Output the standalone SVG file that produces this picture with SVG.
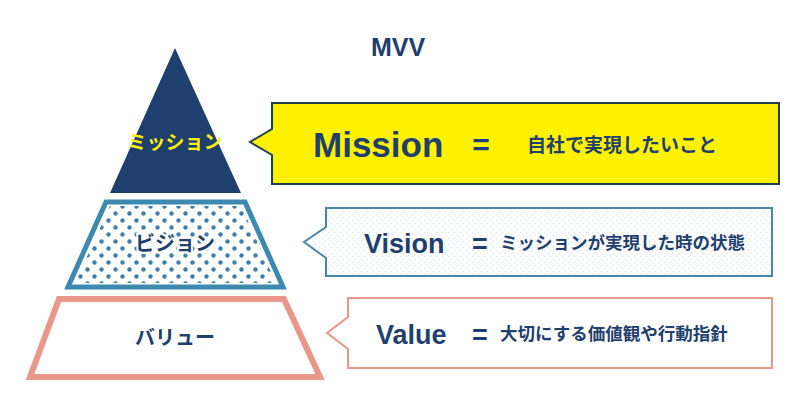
<svg xmlns="http://www.w3.org/2000/svg" width="800" height="419" viewBox="0 0 800 419">
<style>
.en{font-family:"Liberation Sans",Arial,sans-serif;font-weight:bold;fill:#1f3f6e}
.jp{font-family:"Noto Sans CJK JP","Noto Sans",sans-serif;font-weight:bold;fill:#1f3f6e}
</style>
<defs>
<pattern id="dots" width="14" height="14" patternUnits="userSpaceOnUse">
<circle cx="3.5" cy="3.5" r="2.2" fill="#3d7faa"/><circle cx="10.5" cy="10.5" r="2.2" fill="#3d7faa"/>
</pattern>
<pattern id="fdots" width="6" height="6" patternUnits="userSpaceOnUse">
<rect width="6" height="6" fill="#fff"/><circle cx="1.5" cy="1.5" r="1" fill="#e2ecf2"/><circle cx="4.5" cy="4.5" r="1" fill="#e2ecf2"/>
</pattern>
</defs>
<rect width="800" height="419" fill="#fff"/>
<text class="en" x="398" y="56" font-size="25" text-anchor="middle">MVV</text>
<g id="mission-tier">
<polygon points="175,48 241,193 110,193" fill="#1f3f6e"/>
<text class="jp" x="175" y="149" font-size="19" text-anchor="middle" style="fill:#fff200">ミッション</text>
</g>
<g id="vision-tier">
<polygon points="106,202 245,202 283,287 68,287" fill="#fff" stroke="#3d8ab0" stroke-width="5"/>
<polygon points="110,206 241,206 276,283 75,283" fill="url(#dots)"/>
<text class="jp" x="175" y="251" font-size="20" text-anchor="middle" stroke="#fff" stroke-width="4" paint-order="stroke">ビジョン</text>
</g>
<g id="value-tier">
<polygon points="59,299 284,299 320,377 30,377" fill="#fff" stroke="#e8978a" stroke-width="6"/>
<text class="jp" x="175" y="345" font-size="20" text-anchor="middle">バリュー</text>
</g>
<g id="connectors">
<path d="M272,103 H779 V184 H272 V155 L250,142 L272,129 Z" fill="#fff200" stroke="#1f3f50" stroke-width="2"/>
<path d="M326,208 H772 V276 H326 V258 L304,242 L326,227 Z" fill="url(#fdots)" stroke="#4a86a8" stroke-width="2"/>
<path d="M348,298 H772 V368 H348 V349 L327,333 L348,317 Z" fill="#fff" stroke="#e8978a" stroke-width="2"/>
</g>
<g id="mission-box">
<text class="en" x="313" y="157" font-size="35">Mission</text>
<text class="en" x="481" y="155" font-size="30" text-anchor="middle">=</text>
<text class="jp" x="527" y="152" font-size="19">自社で実現したいこと</text>
</g>
<g id="vision-box">
<text class="en" x="364" y="253" font-size="27">Vision</text>
<text class="en" x="480" y="253" font-size="27" text-anchor="middle">=</text>
<text class="jp" x="500" y="249" font-size="17.5">ミッションが実現した時の状態</text>
</g>
<g id="value-box">
<text class="en" x="376" y="344" font-size="27">Value</text>
<text class="en" x="480" y="344" font-size="27" text-anchor="middle">=</text>
<text class="jp" x="500" y="340" font-size="17.5">大切にする価値観や行動指針</text>
</g>
</svg>
